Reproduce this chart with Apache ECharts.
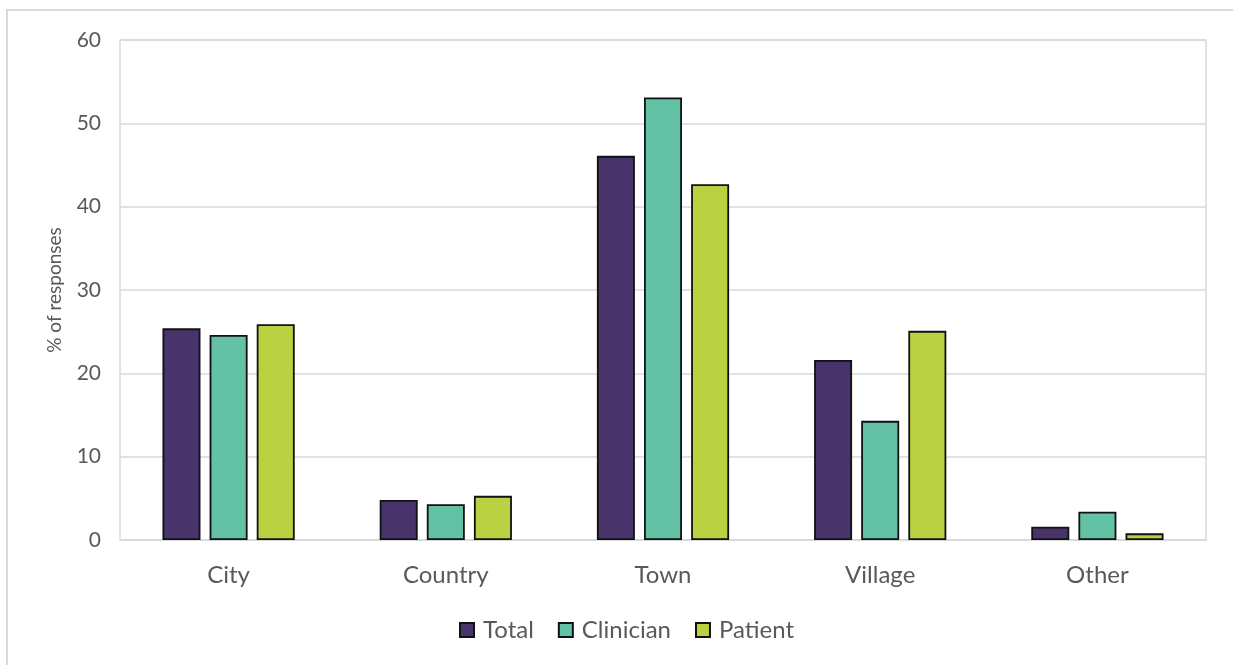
<!DOCTYPE html>
<html>
<head>
<meta charset="utf-8">
<script src="https://cdn.jsdelivr.net/npm/echarts@6/dist/echarts.min.js"></script>
<style>
  html, body { margin: 0; padding: 0; background: #fff; }
  #chart { width: 1233px; height: 665px; }
</style>
</head>
<body>
<div id="chart"></div>
<script>
// data
const categories = ["City", "Country", "Town", "Village", "Other"];
const total = [25.4, 4.8, 46.1, 21.6, 1.6];
const clinician = [24.6, 4.3, 53.1, 14.3, 3.4];
const patient = [25.9, 5.3, 42.7, 25.1, 0.8];

const font = "Lato, 'Open Sans', sans-serif";

const myChart = echarts.init(document.getElementById("chart"));

function barSeries(name, values, color) {
  return {
    name: name,
    type: "bar",
    data: values,
    barWidth: 38,
    barGap: "24%",
    itemStyle: {
      color: color,
      borderColor: "#111",
      borderWidth: 1.8,
    },
    emphasis: { disabled: true },
  };
}

const option = {
  animation: false,
  textStyle: { fontFamily: font },
  // outer chart frame (runs off the right and bottom edge)
  graphic: [
    {
      type: "rect",
      shape: { x: 7, y: 10, width: 1300, height: 720 },
      style: { fill: null, stroke: "#d9d9d9", lineWidth: 2 },
      silent: true,
    },
  ],
  grid: {
    left: 120,
    right: 27,
    top: 40,
    bottom: 125,
    show: true,
    borderColor: "#d9d9d9",
    borderWidth: 1.5,
  },
  legend: {
    bottom: 18,
    left: 454,
    itemWidth: 14,
    itemHeight: 14,
    itemGap: 24,
    icon: "rect",
    textStyle: { fontSize: 24, color: "#595959", fontFamily: font, padding: [0, 0, 0, 4] },
    data: ["Total", "Clinician", "Patient"],
  },
  xAxis: {
    type: "category",
    data: categories,
    axisTick: { show: false },
    axisLine: { lineStyle: { color: "#d9d9d9", width: 1.5 } },
    axisLabel: { fontSize: 24, color: "#595959", margin: 23 },
  },
  yAxis: {
    type: "value",
    min: 0,
    max: 60,
    interval: 10,
    name: "% of responses",
    nameLocation: "middle",
    nameGap: 56,
    nameTextStyle: { fontSize: 19, color: "#595959" },
    axisLine: { show: false },
    axisTick: { show: false },
    axisLabel: { fontSize: 21, color: "#595959", margin: 19 },
    splitLine: { lineStyle: { color: "#d9d9d9", width: 1.5 } },
  },
  series: [
    barSeries("Total", total, "#48336a"),
    barSeries("Clinician", clinician, "#63c1a6"),
    barSeries("Patient", patient, "#bad141"),
  ],
};

myChart.setOption(option);
</script>
</body>
</html>
